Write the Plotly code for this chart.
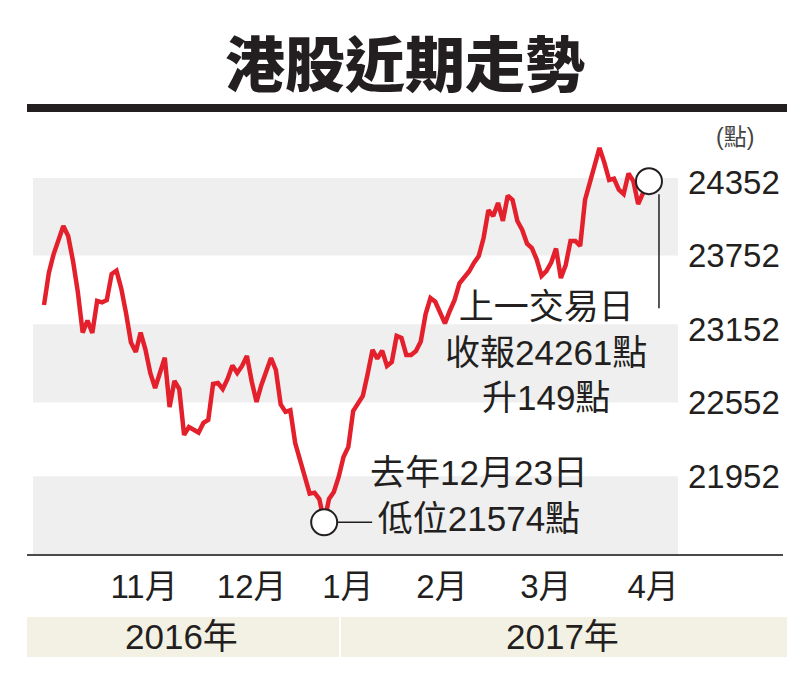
import plotly.graph_objects as go

# Trading days (Hang Seng Index closes)
dates = (
    ["2016-09-30"]
    + ["2016-10-%02d" % d for d in [3, 4, 5, 6, 7, 11, 12, 13, 14, 17, 18, 19, 20, 24, 25, 26, 27, 28, 31]]
    + ["2016-11-%02d" % d for d in [1, 2, 3, 4, 7, 8, 9, 10, 11, 14, 15, 16, 17, 18, 21, 22, 23, 24, 25, 28, 29, 30]]
    + ["2016-12-%02d" % d for d in [1, 2, 5, 6, 7, 8, 9, 12, 13, 14, 15, 16, 19, 20, 21, 22, 23, 28, 29, 30]]
    + ["2017-01-%02d" % d for d in [3, 4, 5, 6, 9, 10, 11, 12, 13, 16, 17, 18, 19, 20, 23, 24, 25, 26, 27]]
    + ["2017-02-%02d" % d for d in [1, 2, 3, 6, 7, 8, 9, 10, 13, 14, 15, 16, 17, 20, 21, 22, 23, 24, 27, 28]]
    + ["2017-03-%02d" % d for d in [1, 2, 3, 6, 7, 8, 9, 10, 13, 14, 15, 16, 17, 20, 21, 22, 23, 24, 27, 28, 29, 30, 31]]
    + ["2017-04-03"]
)

hsi = [
    23348, 23609, 23764, 23879, 23993, 23911, 23707, 23454, 23123, 23221,
    23119, 23381, 23369, 23389, 23601, 23628, 23481, 23278, 23042, 22964,
    23122, 22984, 22793, 22670, 22795, 22917, 22515, 22728, 22662, 22287,
    22352, 22328, 22307, 22385, 22409, 22703, 22711, 22662, 22744, 22853,
    22793, 22850, 22932, 22723, 22556, 22695, 22817, 22915, 22817, 22536,
    22475, 22488, 22221, 22075, 21956, 21808, 21816, 21764, 21574, 21764,
    21821, 21944, 22107, 22189, 22483, 22548, 22605, 22785, 22981, 22910,
    22976, 22850, 22883, 23095, 23079, 22940, 22940, 22972, 23050, 23274,
    23405, 23374, 23286, 23198, 23299, 23389, 23524, 23578, 23621, 23692,
    23748, 23895, 24123, 24074, 24181, 24034, 24241, 24205, 24034, 23960,
    23849, 23813, 23719, 23585, 23625, 23694, 23809, 23568, 23674, 23870,
    23870, 23830, 24205, 24346, 24494, 24630, 24510, 24368, 24379, 24290,
    24254, 24422, 24360, 24172, 24261,
]

y_ticks = [21952, 22552, 23152, 23752, 24352]
month_labels = ["11月", "12月", "1月", "2月", "3月", "4月"]
month_pos = [20.7, 43.0, 62.9, 82.4, 103.9, 126.1]
bands = [(23752, 24385), (22552, 23190), (21300, 21950)]
year_labels = ["2016年", "2017年"]

title = "港股近期走勢"
close_note = "上一交易日<br>收報24261點<br>升149點"
low_note = "去年12月23日<br>低位21574點"

CJK = "Liberation Sans, Noto Sans CJK TC, sans-serif"
INK = "#231f20"

xs = list(range(len(dates)))
low_i = hsi.index(min(hsi))
last_i = len(hsi) - 1

fig = go.Figure()
fig.add_trace(go.Scatter(
    x=xs, y=hsi, customdata=dates, mode="lines",
    line=dict(color="#e3202b", width=4.5),
    hovertemplate="%{customdata}: %{y}<extra></extra>",
))
fig.add_trace(go.Scatter(
    x=[xs[low_i]], y=[hsi[low_i]], mode="markers",
    marker=dict(size=26, color="white", line=dict(color=INK, width=2)),
    hoverinfo="skip",
))

shapes = []
for lo, hi in bands:
    shapes.append(dict(type="rect", xref="paper", yref="y", x0=0, x1=1, y0=lo, y1=hi,
                       fillcolor="#efefef", line=dict(width=0), layer="below"))
# thick title bar
shapes.append(dict(type="rect", xref="paper", yref="paper", x0=-0.0093, x1=1.169,
                   y0=1.0184, y1=1.0368, fillcolor=INK, line=dict(width=0)))
# bottom axis rule
shapes.append(dict(type="line", xref="paper", yref="paper", x0=-0.0093, x1=1.1628,
                   y0=0, y1=0, line=dict(color="#4a4a4a", width=2)))
# year band
shapes.append(dict(type="rect", xref="paper", yref="paper", x0=-0.0093, x1=1.169,
                   y0=-0.2345, y1=-0.1425, fillcolor="#f3f0e4", line=dict(width=0)))
shapes.append(dict(type="line", xref="paper", yref="paper", x0=0.4760, x1=0.4760,
                   y0=-0.2345, y1=-0.1425, line=dict(color="white", width=2)))
# connector for low point
shapes.append(dict(type="line", xref="x", yref="y", xsizemode="pixel", ysizemode="pixel",
                   xanchor=xs[low_i], yanchor=hsi[low_i], x0=13, x1=48, y0=0, y1=0,
                   line=dict(color=INK, width=1.5)))
# close-point leader and circle
shapes.append(dict(type="line", xref="x", yref="y", xsizemode="pixel", ysizemode="pixel",
                   xanchor=xs[last_i], yanchor=hsi[last_i], x0=16, x1=16, y0=-1, y1=-115,
                   line=dict(color=INK, width=1.5)))
shapes.append(dict(type="circle", xref="x", yref="y", xsizemode="pixel", ysizemode="pixel",
                   xanchor=xs[last_i], yanchor=hsi[last_i], x0=-7, x1=19, y0=-1, y1=25,
                   fillcolor="white", line=dict(color=INK, width=2)))

annotations = [
    dict(text=title, xref="paper", yref="paper", x=0.5767, y=1.136, showarrow=False,
         xanchor="center", yanchor="middle",
         font=dict(family="Noto Sans CJK TC, sans-serif", size=60, color=INK, weight=900)),
    dict(text="(點)", xref="paper", yref="paper", x=1.0884, y=0.961, showarrow=False,
         xanchor="center", yanchor="middle", font=dict(family=CJK, size=23, color="#444")),
    dict(text=close_note, xref="paper", yref="paper", x=0.7953, y=0.4667, showarrow=False,
         xanchor="center", yanchor="middle", align="center",
         font=dict(family=CJK, size=35, color=INK)),
    dict(text=low_note, xref="paper", yref="paper", x=0.6915, y=0.1379, showarrow=False,
         xanchor="center", yanchor="middle", align="center",
         font=dict(family=CJK, size=35, color=INK)),
    dict(text=year_labels[0], xref="paper", yref="paper", x=0.2295, y=-0.1885, showarrow=False,
         xanchor="center", yanchor="middle", font=dict(family=CJK, size=35, color=INK)),
    dict(text=year_labels[1], xref="paper", yref="paper", x=0.8217, y=-0.1885, showarrow=False,
         xanchor="center", yanchor="middle", font=dict(family=CJK, size=35, color=INK)),
]

fig.update_layout(
    width=800, height=676,
    margin=dict(l=25, r=130, t=112, b=129),
    paper_bgcolor="white", plot_bgcolor="white",
    showlegend=False,
    shapes=shapes, annotations=annotations,
    xaxis=dict(range=[-2.28, 131.25], tickmode="array", tickvals=month_pos,
               ticktext=month_labels, showgrid=False, zeroline=False, showline=False,
               ticks="", ticklabelstandoff=9,
               tickfont=dict(family=CJK, size=33, color=INK)),
    yaxis=dict(range=[21307, 24858], side="right", tickmode="array", tickvals=y_ticks,
               ticktext=[str(v) for v in y_ticks], showgrid=False, zeroline=False,
               showline=False, ticks="", ticklabelstandoff=9,
               tickfont=dict(family="Liberation Sans, sans-serif", size=33, color=INK)),
)

fig.write_html("out.html")
